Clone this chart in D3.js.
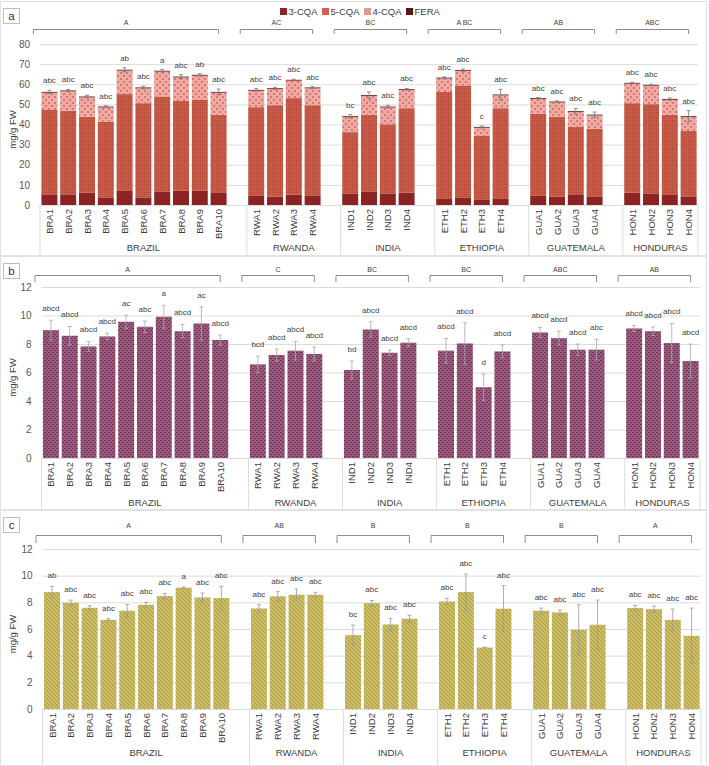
<!DOCTYPE html>
<html>
<head>
<meta charset="utf-8">
<script src="https://cdn.jsdelivr.net/npm/d3@7"></script>
<style>
  body { margin: 0; background: #fff; }
  svg { font-family: "Liberation Sans", Arial, sans-serif; }
</style>
</head>
<body>
<svg id="chart"></svg>
<script>
    var width = 709;
    var height = 766;

    // categories
    var countries = ['BRAZIL', 'RWANDA', 'INDIA', 'ETHIOPIA', 'GUATEMALA', 'HONDURAS'];
    var samples = [
        ['BRA1', 'BRA2', 'BRA3', 'BRA4', 'BRA5', 'BRA6', 'BRA7', 'BRA8', 'BRA9', 'BRA10'],
        ['RWA1', 'RWA2', 'RWA3', 'RWA4'],
        ['IND1', 'IND2', 'IND3', 'IND4'],
        ['ETH1', 'ETH2', 'ETH3', 'ETH4'],
        ['GUA1', 'GUA2', 'GUA3', 'GUA4'],
        ['HON1', 'HON2', 'HON3', 'HON4']
    ];

    // panel a: stacked series (mg/g FW)
    var seriesNames = ['3-CQA', '5-CQA', '4-CQA', 'FERA'];
    var cqa3 = [5.3, 5.3, 6.1, 3.8, 7.3, 3.8, 6.5, 7.1, 7.1, 6.0, 4.5, 4.1, 5.1, 4.8, 5.5, 6.5, 5.5, 6.1, 3.0, 3.5, 2.5, 3.0, 4.5, 4.1, 5.0, 4.3, 6.1, 5.5, 5.0, 4.3];
    var cqa5 = [41.9, 41.5, 37.8, 37.7, 47.8, 46.8, 47.4, 44.6, 45.1, 38.8, 44.1, 45.5, 48.0, 44.8, 30.7, 38.3, 34.6, 42.0, 53.2, 55.9, 31.8, 45.1, 40.8, 39.7, 33.8, 33.5, 44.5, 44.6, 39.8, 32.5];
    var cqa4 = [8.6, 9.7, 9.6, 7.0, 11.7, 7.4, 12.4, 11.7, 12.1, 11.0, 8.2, 8.0, 8.7, 8.4, 7.5, 9.4, 8.4, 9.0, 6.7, 7.2, 4.1, 6.4, 7.4, 7.2, 7.4, 6.7, 9.7, 9.2, 7.5, 6.9];
    var fera = [0.4, 0.4, 0.4, 0.4, 0.4, 0.4, 0.4, 0.4, 0.4, 0.4, 0.4, 0.4, 0.4, 0.4, 0.4, 0.4, 0.4, 0.4, 0.4, 0.4, 0.4, 0.4, 0.4, 0.4, 0.4, 0.4, 0.4, 0.4, 0.4, 0.4];
    var errA = [0.8, 0.5, 0.6, 0.4, 1.0, 0.6, 0.6, 1.0, 0.6, 1.4, 0.6, 0.5, 0.3, 0.4, 0.8, 1.6, 0.6, 0.4, 0.4, 0.6, 0.5, 2.6, 0.3, 0.3, 1.4, 1.3, 0.3, 0.3, 0.5, 2.8];
    var lettersA = ['abc', 'abc', 'abc', 'abc', 'ab', 'abc', 'a', 'abc', 'ab', 'abc', 'abc', 'abc', 'abc', 'abc', 'bc', 'abc', 'abc', 'abc', 'abc', 'abc', 'c', 'abc', 'abc', 'abc', 'abc', 'abc', 'abc', 'abc', 'abc', 'abc'];
    var groupLettersA = ['A', 'AC', 'BC', 'A BC', 'AB', 'ABC'];

    // panel b
    var valuesB = [8.97, 8.58, 7.83, 8.53, 9.56, 9.21, 9.91, 8.90, 9.44, 8.28, 6.57, 7.23, 7.53, 7.30, 6.18, 9.02, 7.39, 8.09, 7.53, 8.04, 4.97, 7.48, 8.81, 8.41, 7.60, 7.60, 9.09, 8.90, 8.07, 6.81];
    var errB = [0.70, 0.65, 0.35, 0.23, 0.46, 0.40, 0.80, 0.47, 1.17, 0.35, 0.58, 0.42, 0.65, 0.49, 0.63, 0.54, 0.19, 0.28, 0.86, 1.45, 0.93, 0.45, 0.35, 0.49, 0.40, 0.72, 0.21, 0.30, 1.37, 1.19];
    var lettersB = ['abcd', 'abcd', 'abcd', 'abcd', 'ac', 'abc', 'a', 'abcd', 'ac', 'abcd', 'bcd', 'abcd', 'abcd', 'abcd', 'bd', 'abcd', 'abcd', 'abcd', 'abcd', 'abcd', 'd', 'abcd', 'abcd', 'abcd', 'abcd', 'abc', 'abcd', 'abcd', 'abcd', 'abcd'];
    var groupLettersB = ['A', 'C', 'BC', 'BC', 'ABC', 'AB'];

    // panel c
    var valuesC = [8.77, 7.97, 7.59, 6.69, 7.37, 7.82, 8.47, 9.10, 8.37, 8.32, 7.54, 8.45, 8.57, 8.57, 5.54, 7.94, 6.34, 6.77, 8.07, 8.77, 4.61, 7.52, 7.37, 7.24, 5.94, 6.32, 7.57, 7.49, 6.69, 5.49];
    var errC = [0.43, 0.20, 0.15, 0.08, 0.47, 0.17, 0.20, 0.05, 0.33, 0.88, 0.28, 0.35, 0.43, 0.18, 0.75, 0.20, 0.45, 0.27, 0.23, 1.35, 0.03, 1.73, 0.20, 0.18, 1.88, 1.85, 0.20, 0.23, 0.80, 2.08];
    var lettersC = ['ab', 'abc', 'abc', 'abc', 'abc', 'abc', 'abc', 'a', 'abc', 'abc', 'abc', 'abc', 'abc', 'abc', 'bc', 'abc', 'abc', 'abc', 'abc', 'abc', 'c', 'abc', 'abc', 'abc', 'abc', 'abc', 'abc', 'abc', 'abc', 'abc'];
    var groupLettersC = ['A', 'AB', 'B', 'B', 'B', 'A'];

    var ticksA = [0, 10, 20, 30, 40, 50, 60, 70, 80];
    var ticksBC = [0, 2, 4, 6, 8, 10, 12];

    // -----------------------------------
    var textColor = '#595959';
    var chart = d3.select('#chart').attr('width', width).attr('height', height);

    // slots: samples plus one blank slot after each country except the last
    var flat = [];
    var slots = [];
    var groupSlots = [];
    samples.forEach(function(list, i) {
        var first = slots.length;
        list.forEach(function(s) { flat.push(s); slots.push(s); });
        if (i < samples.length - 1) slots.push('_gap' + i);
        groupSlots.push([first, slots.length]);
    });

    // patterns
    var defs = chart.append('defs');
    function pattern(id, base, dark, cells, size) {
        var p = defs.append('pattern').attr('id', id)
            .attr('patternUnits', 'userSpaceOnUse')
            .attr('width', size).attr('height', size);
        p.append('rect').attr('width', size).attr('height', size).attr('fill', base);
        cells.forEach(function(c) {
            p.append('rect').attr('x', c[0]).attr('y', c[1])
                .attr('width', c[2]).attr('height', c[3]).attr('fill', dark);
        });
    }
    pattern('p3', '#8e2424', '#7c1c1c', [[0, 0, 1, 1], [2, 2, 1, 1]], 4);
    pattern('p5', '#ca5d48', '#b24636', [[0, 0, 1, 1], [2, 2, 1, 1], [2, 0, 1, 1], [0, 2, 1, 1]], 4);
    pattern('p4', '#eeaaa3', '#d8776f', [[0, 0, 2, 2], [3, 3, 2, 2]], 6);
    pattern('pB', '#9a5a7e', '#6f3254', [[0, 0, 2, 1], [2, 2, 2, 1]], 4);
    pattern('pC', '#cbbd66', '#ab9b44', [[0, 0, 1, 1], [2, 2, 1, 1], [1, 1, 1, 1], [3, 3, 1, 1]], 4);
    var fillA = ['url(#p3)', 'url(#p5)', 'url(#p4)', '#5a1616'];
    var legendA = ['#8e2424', '#cf6151', '#e49690', '#5a1616'];

    function drawPanel(p) {
        var g = chart.append('g');

        g.append('rect')
            .attr('x', 0.5).attr('y', p.top + 0.5)
            .attr('width', 706).attr('height', p.bottom - p.top)
            .attr('fill', 'none').attr('stroke', '#e2e2e2');

        var x = d3.scaleBand().domain(slots).range([p.left, p.right])
            .paddingInner(0.15).paddingOuter(0.075);
        var step = x.step();
        var y = d3.scaleLinear().domain([0, p.max]).range([p.y0, p.yTop]);

        // grid + y ticks
        var yAxis = d3.axisLeft(y).tickValues(p.ticks)
            .tickSize(-(p.right - p.left)).tickPadding(10);
        var ax = g.append('g').attr('transform', 'translate(' + p.left + ',0)').call(yAxis);
        ax.select('.domain').remove();
        ax.selectAll('line').attr('stroke', '#dcdcdc');
        ax.selectAll('text').attr('fill', textColor).style('font-size', '10px');

        g.append('text')
            .attr('transform', 'translate(16,' + ((p.y0 + p.yTop) / 2 + 5) + ') rotate(-90)')
            .attr('text-anchor', 'middle')
            .attr('fill', '#404040')
            .style('font-size', '9.5px')
            .text('mg/g FW');

        // panel letter box
        g.append('rect').attr('x', 3.5).attr('y', p.top + 7.5)
            .attr('width', 16).attr('height', 15)
            .attr('fill', '#fff').attr('stroke', '#bdbdbd');
        g.append('text').attr('x', 11.5).attr('y', p.top + 19)
            .attr('text-anchor', 'middle').attr('fill', '#333')
            .style('font-size', '11.5px').text(p.label);

        // bars
        var tops = [];
        if (p.stacked) {
            var rows = flat.map(function(s, i) {
                return { name: s, '3-CQA': cqa3[i], '5-CQA': cqa5[i], '4-CQA': cqa4[i], 'FERA': fera[i] };
            });
            var stack = d3.stack().keys(seriesNames)(rows);
            stack.forEach(function(layer, k) {
                g.append('g').selectAll('rect').data(layer).enter().append('rect')
                    .attr('x', function(d) { return x(d.data.name); })
                    .attr('width', x.bandwidth())
                    .attr('y', function(d) { return y(d[1]); })
                    .attr('height', function(d) { return y(d[0]) - y(d[1]); })
                    .attr('fill', fillA[k]);
            });
            tops = stack[3].map(function(d) { return d[1]; });
        } else {
            g.append('g').selectAll('rect').data(p.values).enter().append('rect')
                .attr('x', function(d, i) { return x(flat[i]); })
                .attr('width', x.bandwidth())
                .attr('y', function(d) { return y(d); })
                .attr('height', function(d) { return p.y0 - y(d); })
                .attr('fill', p.fill);
            tops = p.values;
        }

        // error bars
        var eb = g.append('g').attr('stroke', p.errColor).attr('stroke-width', 0.8);
        tops.forEach(function(v, i) {
            var cx = x(flat[i]) + x.bandwidth() / 2;
            var hi = y(v + p.err[i]);
            var lo = y(v - p.err[i]);
            eb.append('line').attr('x1', cx).attr('x2', cx).attr('y1', hi).attr('y2', lo);
            eb.append('line').attr('x1', cx - 2).attr('x2', cx + 2).attr('y1', hi).attr('y2', hi);
            eb.append('line').attr('x1', cx - 2).attr('x2', cx + 2).attr('y1', lo).attr('y2', lo);
        });

        // significance letters
        g.append('g').selectAll('text').data(p.letters).enter().append('text')
            .attr('x', function(d, i) { return x(flat[i]) + x.bandwidth() / 2; })
            .attr('y', function(d, i) { return y(tops[i] + p.err[i]) - p.letterGap; })
            .attr('text-anchor', 'middle')
            .attr('fill', '#444')
            .style('font-size', '8px')
            .text(function(d) { return d; });

        // category axis (two levels)
        var cat = g.append('g');
        var bounds = [p.left];
        groupSlots.forEach(function(gs) { bounds.push(p.left + gs[1] * step); });
        cat.selectAll('line').data(bounds).enter().append('line')
            .attr('x1', function(d) { return d; }).attr('x2', function(d) { return d; })
            .attr('y1', p.y0).attr('y2', p.bottom)
            .attr('stroke', '#dcdcdc');

        cat.selectAll('text.s').data(flat).enter().append('text')
            .attr('class', 's')
            .attr('transform', function(d) {
                return 'translate(' + (x(d) + x.bandwidth() / 2 + 3.5) + ',' + (p.y0 + 4) + ') rotate(-90)';
            })
            .attr('text-anchor', 'end')
            .attr('fill', '#404040')
            .style('font-size', '9.5px')
            .text(function(d) { return d; });

        cat.selectAll('text.c').data(countries).enter().append('text')
            .attr('class', 'c')
            .attr('x', function(d, i) { return p.left + (groupSlots[i][0] + groupSlots[i][1]) / 2 * step; })
            .attr('y', p.groupY)
            .attr('text-anchor', 'middle')
            .attr('fill', '#404040')
            .style('font-size', '9.5px')
            .text(function(d) { return d; });

        // brackets with country-level letters
        var br = g.append('g');
        samples.forEach(function(list, i) {
            var x1 = x(list[0]) - 8;
            var x2 = x(list[list.length - 1]) + x.bandwidth() / 2;
            br.append('path')
                .attr('d', 'M' + x1 + ',' + p.brTip + 'V' + p.brLine + 'H' + x2 + 'V' + p.brTip)
                .attr('fill', 'none').attr('stroke', '#8c8c8c').attr('stroke-width', 1);
            br.append('text')
                .attr('x', (x1 + x2) / 2).attr('y', p.brText)
                .attr('text-anchor', 'middle').attr('fill', '#404040')
                .style('font-size', '7px')
                .text(p.groupLetters[i]);
        });
    }

    drawPanel({
        label: 'a', top: 1, bottom: 255, left: 40, right: 698,
        y0: 205, yTop: 44, max: 80, ticks: ticksA, stacked: true,
        err: errA, errColor: '#777', letters: lettersA, letterGap: 7,
        groupLetters: groupLettersA, groupY: 251,
        brLine: 29.5, brTip: 34, brText: 25
    });
    drawPanel({
        label: 'b', top: 256, bottom: 509, left: 41.5, right: 700,
        y0: 458, yTop: 287, max: 12, ticks: ticksBC, values: valuesB, fill: 'url(#pB)',
        err: errB, errColor: '#aaa', letters: lettersB, letterGap: 9,
        groupLetters: groupLettersB, groupY: 506,
        brLine: 275.5, brTip: 282, brText: 272
    });
    drawPanel({
        label: 'c', top: 510, bottom: 765, left: 42.6, right: 701,
        y0: 709, yTop: 549, max: 12, ticks: ticksBC, values: valuesC, fill: 'url(#pC)',
        err: errC, errColor: '#999', letters: lettersC, letterGap: 8,
        groupLetters: groupLettersC, groupY: 756,
        brLine: 535.5, brTip: 543, brText: 528
    });

    // legend for panel a
    var lx = [280, 322, 364, 406];
    var leg = chart.append('g');
    seriesNames.forEach(function(s, i) {
        leg.append('rect').attr('x', lx[i]).attr('y', 8).attr('width', 7).attr('height', 7)
            .attr('fill', legendA[i]);
        leg.append('text').attr('x', lx[i] + 8.5).attr('y', 15)
            .attr('fill', '#404040').style('font-size', '9.5px').text(s);
    });
</script>
</body>
</html>
